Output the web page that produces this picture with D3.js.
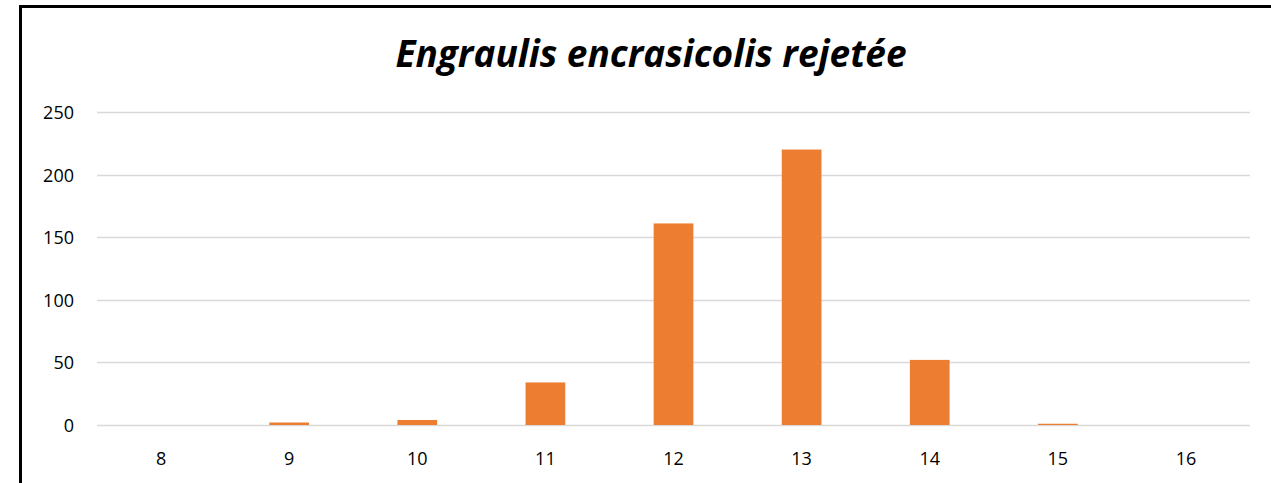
<!DOCTYPE html>
<html>
  <head>
    <meta charset="UTF-8" />
    <title>Engraulis encrasicolis rejetée</title>
    <style>
      body { margin: 0; background: #fff; }
      svg { display: block; font-family: "Open Sans", "Noto Sans", sans-serif; }
      .tick text { font-family: "Open Sans", "Noto Sans", sans-serif; font-size: 18px; fill: #000; }
    </style>
  </head>
  <body>
    <svg id="chart" width="1271" height="483"></svg>
    <script src="https://cdnjs.cloudflare.com/ajax/libs/d3/7.8.5/d3.min.js"></script>
    <script>
const categories = ['8', '9', '10', '11', '12', '13', '14', '15', '16'];
const values = [0, 2, 4, 34, 161, 220, 52, 1, 0];
const yTicks = [0, 50, 100, 150, 200, 250];
const title = 'Engraulis encrasicolis rejetée';

const svg = d3.select('#chart');
const plotLeft = 97, plotRight = 1250, plotTop = 112, plotBottom = 425;

// frame (right and bottom edges fall outside the picture)
svg.append('rect')
  .attr('x', 20.5).attr('y', 6.5)
  .attr('width', 1270).attr('height', 490)
  .attr('fill', 'none').attr('stroke', '#000').attr('stroke-width', 3);

const x = d3.scaleBand().domain(categories).range([plotLeft, plotRight]).paddingInner(0.69).paddingOuter(0.345);
const y = d3.scaleLinear().domain([0, 250]).range([plotBottom, plotTop]);

// gridlines
svg.append('g')
  .selectAll('line')
  .data(yTicks)
  .join('line')
  .attr('x1', plotLeft).attr('x2', plotRight)
  .attr('y1', d => Math.round(y(d)) + 0.5).attr('y2', d => Math.round(y(d)) + 0.5)
  .attr('stroke', '#d9d9d9').attr('stroke-width', 1.5);

// bars
svg.append('g')
  .selectAll('rect')
  .data(values)
  .join('rect')
  .attr('x', (d, i) => x(categories[i]))
  .attr('width', x.bandwidth())
  .attr('y', d => y(d))
  .attr('height', d => plotBottom - y(d))
  .attr('fill', '#ed7d31');

// y axis
const yAxis = svg.append('g')
  .attr('transform', 'translate(74,0)')
  .call(d3.axisLeft(y).tickValues(yTicks).tickSize(0).tickPadding(0));
yAxis.select('.domain').remove();
yAxis.selectAll('text').attr('dy', '0.36em');

// x axis
const xAxis = svg.append('g')
  .attr('transform', 'translate(0,465)')
  .call(d3.axisBottom(x).tickSize(0).tickPadding(0));
xAxis.select('.domain').remove();
xAxis.selectAll('text').attr('dy', '0');

// title
svg.append('text')
  .attr('x', 651).attr('y', 67)
  .attr('text-anchor', 'middle')
  .style('font-size', '37px')
  .style('font-weight', 'bold')
  .style('font-style', 'italic')
  .text(title);
    </script>
  </body>
</html>
